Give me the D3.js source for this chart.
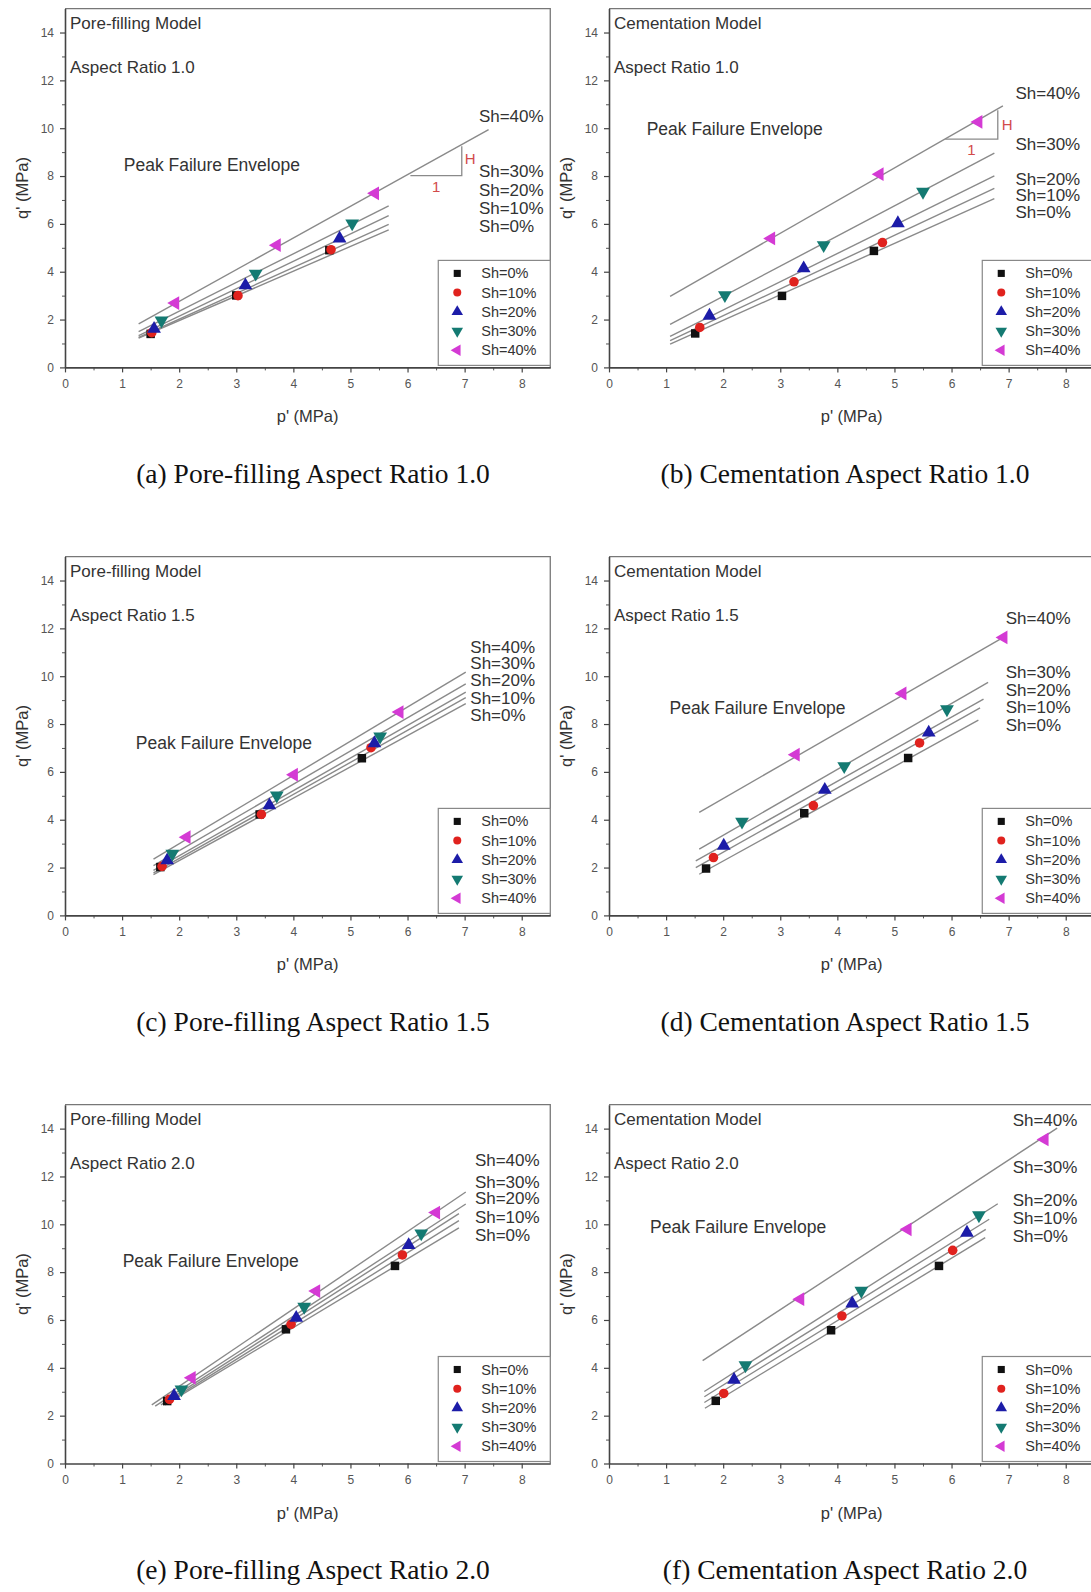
<!DOCTYPE html>
<html>
<head>
<meta charset="utf-8">
<script src="https://cdn.jsdelivr.net/npm/d3@7"></script>
<style>
  body { margin: 0; background: #fff; }
  svg { display: block; }
</style>
</head>
<body>
<svg id="fig" width="1091" height="1592"></svg>
<script>
// ---- Series and tick definitions ----
const shLevels = ["Sh=0%", "Sh=10%", "Sh=20%", "Sh=30%", "Sh=40%"];
const xTicks = [0, 1, 2, 3, 4, 5, 6, 7, 8];
const yTicks = [0, 2, 4, 6, 8, 10, 12, 14];

// Peak states (p', q') in MPa, one row per hydrate saturation (0,10,20,30,40 %)
// Envelopes: [p start, q start, p end, q end] per hydrate saturation

// (a) Pore-filling, aspect ratio 1.0
const poreAR10_p = [[1.50, 3.00, 4.63], [1.52, 3.03, 4.66], [1.56, 3.16, 4.81], [1.69, 3.34, 5.03], [1.93, 3.71, 5.43]];
const poreAR10_q = [[1.40, 3.01, 4.90], [1.45, 3.00, 4.92], [1.61, 3.43, 5.39], [1.96, 3.92, 6.02], [2.69, 5.11, 7.28]];
const poreAR10_env = [[1.29, 1.22, 5.67, 5.75], [1.29, 1.25, 5.67, 5.98], [1.29, 1.33, 5.67, 6.35], [1.29, 1.50, 5.67, 6.75], [1.29, 1.82, 7.42, 9.94]];

// (b) Cementation, aspect ratio 1.0
const cemAR10_p = [[1.51, 3.03, 4.64], [1.59, 3.24, 4.79], [1.76, 3.41, 5.06], [2.03, 3.76, 5.50], [2.84, 4.74, 6.47]];
const cemAR10_q = [[1.42, 2.99, 4.87], [1.67, 3.58, 5.22], [2.16, 4.14, 6.03], [3.02, 5.11, 7.34], [5.39, 8.08, 10.26]];
const cemAR10_env = [[1.07, 0.97, 6.75, 7.06], [1.07, 1.12, 6.75, 7.48], [1.07, 1.30, 6.75, 8.01], [1.07, 1.80, 6.75, 8.96], [1.07, 2.97, 6.90, 10.93]];

// (c) Pore-filling, aspect ratio 1.5
const poreAR15_p = [[1.67, 3.41, 5.20], [1.70, 3.44, 5.36], [1.79, 3.58, 5.42], [1.88, 3.71, 5.52], [2.13, 4.01, 5.86]];
const poreAR15_q = [[2.02, 4.22, 6.57], [2.05, 4.22, 7.01], [2.30, 4.60, 7.20], [2.58, 5.01, 7.48], [3.27, 5.88, 8.50]];
const poreAR15_env = [[1.55, 1.70, 7.02, 8.85], [1.55, 1.78, 7.02, 9.10], [1.55, 1.88, 7.02, 9.33], [1.55, 2.08, 7.02, 9.68], [1.55, 2.35, 7.02, 10.17]];

// (d) Cementation, aspect ratio 1.5
const cemAR15_p = [[1.70, 3.42, 5.24], [1.83, 3.58, 5.44], [2.01, 3.78, 5.60], [2.33, 4.12, 5.92], [3.27, 5.14, 6.91]];
const cemAR15_q = [[1.96, 4.27, 6.58], [2.42, 4.59, 7.21], [2.91, 5.25, 7.64], [3.92, 6.24, 8.62], [6.72, 9.28, 11.62]];
const cemAR15_env = [[1.58, 1.72, 6.47, 8.16], [1.52, 2.00, 6.50, 8.68], [1.52, 2.28, 6.56, 9.04], [1.58, 2.77, 6.64, 9.74], [1.58, 4.31, 6.96, 11.70]];

// (e) Pore-filling, aspect ratio 2.0
const poreAR20_p = [[1.79, 3.87, 5.78], [1.83, 3.96, 5.91], [1.91, 4.05, 6.02], [2.04, 4.19, 6.24], [2.22, 4.40, 6.50]];
const poreAR20_q = [[2.61, 5.61, 8.26], [2.68, 5.82, 8.72], [2.82, 6.09, 9.13], [3.10, 6.55, 9.62], [3.58, 7.21, 10.49]];
const poreAR20_env = [[1.75, 2.45, 6.90, 9.85], [1.72, 2.45, 6.90, 10.15], [1.68, 2.45, 6.90, 10.45], [1.58, 2.40, 7.02, 10.85], [1.52, 2.45, 7.02, 11.35]];

// (f) Cementation, aspect ratio 2.0
const cemAR20_p = [[1.87, 3.89, 5.78], [2.01, 4.08, 6.02], [2.19, 4.26, 6.27], [2.39, 4.42, 6.48], [3.35, 5.23, 7.63]];
const cemAR20_q = [[2.62, 5.57, 8.26], [2.93, 6.17, 8.91], [3.50, 6.69, 9.65], [4.11, 7.22, 10.38], [6.87, 9.79, 13.55]];
const cemAR20_env = [[1.68, 2.31, 6.59, 9.44], [1.67, 2.55, 6.60, 9.79], [1.67, 2.79, 6.66, 10.21], [1.67, 3.01, 6.81, 10.86], [1.64, 4.30, 7.85, 14.02]];

// ---- Panel layout (positions of frames, labels and annotations) ----
const panels = [
  { col: 0, row: 0, model: "Pore-filling Model", ratio: "Aspect Ratio 1.0", caption: "(a) Pore-filling Aspect Ratio 1.0",
    p: poreAR10_p, q: poreAR10_q, env: poreAR10_env,
    shX: 7.25, shQ: [5.91, 6.65, 7.41, 8.18, 10.48], peak: [1.03, 8.2],
    slope: { h0: 6.05, h1: 6.95, hq: 8.02, vTop: 9.25, H: [7.0, 8.74], one: [6.5, 7.55] } },
  { col: 1, row: 0, model: "Cementation Model", ratio: "Aspect Ratio 1.0", caption: "(b) Cementation Aspect Ratio 1.0",
    p: cemAR10_p, q: cemAR10_q, env: cemAR10_env,
    shX: 7.12, shQ: [6.48, 7.17, 7.87, 9.33, 11.45], peak: [0.66, 9.7],
    slope: { h0: 5.89, h1: 6.81, hq: 9.54, vTop: 10.75, H: [6.88, 10.17], one: [6.35, 9.1] } },
  { col: 0, row: 1, model: "Pore-filling Model", ratio: "Aspect Ratio 1.5", caption: "(c) Pore-filling Aspect Ratio 1.5",
    p: poreAR15_p, q: poreAR15_q, env: poreAR15_env,
    shX: 7.1, shQ: [8.36, 9.07, 9.80, 10.52, 11.22], peak: [1.24, 6.95] },
  { col: 1, row: 1, model: "Cementation Model", ratio: "Aspect Ratio 1.5", caption: "(d) Cementation Aspect Ratio 1.5",
    p: cemAR15_p, q: cemAR15_q, env: cemAR15_env,
    shX: 6.95, shQ: [7.95, 8.68, 9.42, 10.15, 12.42], peak: [1.06, 8.41] },
  { col: 0, row: 2, model: "Pore-filling Model", ratio: "Aspect Ratio 2.0", caption: "(e) Pore-filling Aspect Ratio 2.0",
    p: poreAR20_p, q: poreAR20_q, env: poreAR20_env,
    shX: 7.18, shQ: [9.52, 10.30, 11.06, 11.75, 12.65], peak: [1.01, 8.2] },
  { col: 1, row: 2, model: "Cementation Model", ratio: "Aspect Ratio 2.0", caption: "(f) Cementation Aspect Ratio 2.0",
    p: cemAR20_p, q: cemAR20_q, env: cemAR20_env,
    shX: 7.07, shQ: [9.50, 10.25, 10.98, 12.38, 14.36], peak: [0.72, 9.62] }
];

const colX0 = [65, 609];
const rowY0 = [367.4, 915.4, 1463.5];
const captionX = [313, 845];
const captionY = [483, 1031, 1579];
const PX_P = 57.09, PX_Q = 23.92;
const P_MAX = 8.5, Q_MAX = 15;

const sans = "'Liberation Sans', Arial, sans-serif";
const serif = "'Liberation Serif', 'Times New Roman', serif";
const symbolTypes = [d3.symbolSquare, d3.symbolCircle, d3.symbolTriangle, d3.symbolTriangle, d3.symbolTriangle];
const symbolRot = [0, 0, 0, 180, -90];
const symbolColors = ["#111111", "#e0221e", "#1c1ca8", "#147a72", "#d43ad4"];
const symbolSizes = [72, 72, 82, 82, 82];

const svg = d3.select("#fig");

panels.forEach(pn => {
  const x0 = colX0[pn.col], y0 = rowY0[pn.row];
  const x = d3.scaleLinear().domain([0, P_MAX]).range([x0, x0 + P_MAX * PX_P]);
  const y = d3.scaleLinear().domain([0, Q_MAX]).range([y0, y0 - Q_MAX * PX_Q]);
  const g = svg.append("g");

  // top and right frame
  g.append("path")
    .attr("d", `M${x(0)},${y(Q_MAX)}H${x(P_MAX)}V${y(0)}`)
    .attr("fill", "none").attr("stroke", "#777").attr("stroke-width", 1.3);

  // minor ticks
  g.append("g").attr("transform", `translate(0,${y0})`)
    .call(d3.axisBottom(x).tickValues(d3.range(0.5, 8.5, 1)).tickSize(3).tickSizeOuter(0).tickFormat(""))
    .call(a => a.select(".domain").remove())
    .call(a => a.selectAll("line").attr("stroke", "#555"));
  g.append("g").attr("transform", `translate(${x0},0)`)
    .call(d3.axisLeft(y).tickValues(d3.range(1, 15, 2)).tickSize(3).tickSizeOuter(0).tickFormat(""))
    .call(a => a.select(".domain").remove())
    .call(a => a.selectAll("line").attr("stroke", "#555"));

  // major axes
  const styleAxis = a => {
    a.select(".domain").attr("stroke", "#444").attr("stroke-width", 1.6);
    a.selectAll(".tick line").attr("stroke", "#444").attr("stroke-width", 1.2);
    a.selectAll("text").attr("fill", "#555").style("font-family", sans).style("font-size", "12px");
  };
  g.append("g").attr("transform", `translate(0,${y0})`)
    .call(d3.axisBottom(x).tickValues(xTicks).tickSize(5).tickSizeOuter(0).tickPadding(7).tickFormat(d3.format("d")))
    .call(styleAxis);
  g.append("g").attr("transform", `translate(${x0},0)`)
    .call(d3.axisLeft(y).tickValues(yTicks).tickSize(5).tickSizeOuter(0).tickPadding(6).tickFormat(d3.format("d")))
    .call(styleAxis);

  // axis titles
  g.append("text")
    .attr("transform", `translate(${x0 - 43},${(y(0) + y(Q_MAX)) / 2}) rotate(-90)`)
    .attr("text-anchor", "middle").attr("dominant-baseline", "central")
    .style("font-family", sans).style("font-size", "16.5px").attr("fill", "#333")
    .text("q' (MPa)");
  g.append("text")
    .attr("x", (x(0) + x(P_MAX)) / 2).attr("y", y0 + 55)
    .attr("text-anchor", "middle")
    .style("font-family", sans).style("font-size", "16.5px").attr("fill", "#333")
    .text("p' (MPa)");

  // failure envelopes
  g.selectAll(".env").data(pn.env).join("line")
    .attr("x1", d => x(d[0])).attr("y1", d => y(d[1]))
    .attr("x2", d => x(d[2])).attr("y2", d => y(d[3]))
    .attr("stroke", "#8a8a8a").attr("stroke-width", 1.4);

  // slope triangle
  if (pn.slope) {
    const s = pn.slope;
    g.append("path")
      .attr("d", `M${x(s.h0)},${y(s.hq)}H${x(s.h1)}V${y(s.vTop)}`)
      .attr("fill", "none").attr("stroke", "#8a8a8a").attr("stroke-width", 1.3);
    g.append("text").attr("x", x(s.H[0])).attr("y", y(s.H[1]))
      .attr("dominant-baseline", "central")
      .style("font-family", sans).style("font-size", "15px").attr("fill", "#d24a4a").text("H");
    g.append("text").attr("x", x(s.one[0])).attr("y", y(s.one[1]))
      .attr("text-anchor", "middle").attr("dominant-baseline", "central")
      .style("font-family", sans).style("font-size", "15px").attr("fill", "#d24a4a").text("1");
  }

  // data markers
  shLevels.forEach((sh, i) => {
    const sym = d3.symbol().type(symbolTypes[i]).size(symbolSizes[i]);
    g.selectAll(null).data(d3.zip(pn.p[i], pn.q[i])).join("path")
      .attr("d", sym)
      .attr("transform", d => `translate(${x(d[0])},${y(d[1])}) rotate(${symbolRot[i]})`)
      .attr("fill", symbolColors[i]);
  });

  // envelope labels
  shLevels.forEach((sh, i) => {
    g.append("text").attr("x", x(pn.shX)).attr("y", y(pn.shQ[i]))
      .attr("dominant-baseline", "central")
      .style("font-family", sans).style("font-size", "17px").attr("fill", "#333")
      .text(sh);
  });

  // in-plot annotations
  g.append("text").attr("x", x0 + 5).attr("y", y(Q_MAX) + 20)
    .style("font-family", sans).style("font-size", "17px").attr("fill", "#333").text(pn.model);
  g.append("text").attr("x", x0 + 5).attr("y", y(Q_MAX) + 64)
    .style("font-family", sans).style("font-size", "17px").attr("fill", "#333").text(pn.ratio);
  g.append("text").attr("x", x(pn.peak[0])).attr("y", y(pn.peak[1]))
    .style("font-family", sans).style("font-size", "17.5px").attr("fill", "#333").text("Peak Failure Envelope");

  // legend
  const lx = x(P_MAX) - 112, ly = y0 - 107;
  const lg = g.append("g");
  lg.append("rect").attr("x", lx).attr("y", ly).attr("width", 112).attr("height", 105)
    .attr("fill", "#fff").attr("stroke", "#888").attr("stroke-width", 1.2);
  shLevels.forEach((sh, i) => {
    const cy = ly + 13 + i * 19.2;
    lg.append("path")
      .attr("d", d3.symbol().type(symbolTypes[i]).size(symbolSizes[i] * 0.7))
      .attr("transform", `translate(${x(P_MAX) - 93},${cy}) rotate(${symbolRot[i]})`)
      .attr("fill", symbolColors[i]);
    lg.append("text").attr("x", x(P_MAX) - 69).attr("y", cy)
      .attr("dominant-baseline", "central")
      .style("font-family", sans).style("font-size", "14.5px").attr("fill", "#333").text(sh);
  });

  // caption below the panel
  svg.append("text").attr("x", captionX[pn.col]).attr("y", captionY[pn.row])
    .attr("text-anchor", "middle")
    .style("font-family", serif).style("font-size", "27.5px").attr("fill", "#111")
    .text(pn.caption);
});
</script>
</body>
</html>
